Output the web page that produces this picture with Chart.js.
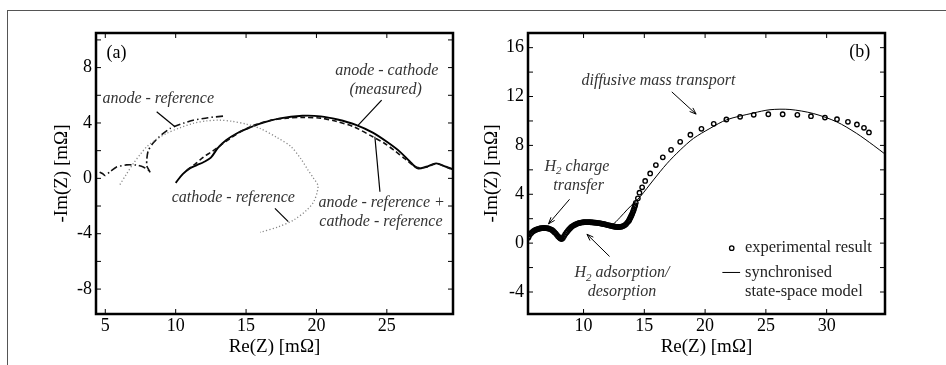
<!DOCTYPE html>
<html>
<head>
<meta charset="utf-8">
<script src="https://cdn.jsdelivr.net/npm/chart.js@4.4.1/dist/chart.umd.min.js"></script>
<style>
  html, body { margin: 0; padding: 0; background: #fff; }
  #wrap { position: relative; width: 946px; height: 365px; overflow: hidden; }
  #frame { position: absolute; left: 7px; top: 10px; right: 0; bottom: 0;
           border-top: 1px solid #555; border-left: 1px solid #555; }
  canvas { position: absolute; left: 0; top: 0; }
</style>
</head>
<body>
<div id="wrap">
  <div id="frame"></div>
  <canvas id="chartA" width="946" height="365"></canvas>
  <canvas id="chartB" width="946" height="365"></canvas>
</div>
<script>
// ---- (a) anode / cathode / reference electrode spectra ----
const measuredX = [10.0, 10.5, 11.0, 11.5, 12.0, 12.5, 13.0, 13.6, 14.3, 15.0, 16.0, 17.4, 19.0, 20.3, 21.5, 22.8, 24.0, 25.0, 25.9, 26.6, 27.2, 27.8, 28.5, 29.2, 29.7];
const measuredY = [-0.32, 0.3, 0.72, 0.95, 1.18, 1.5, 2.2, 2.77, 3.22, 3.55, 3.95, 4.33, 4.52, 4.48, 4.25, 3.86, 3.3, 2.64, 1.95, 1.25, 0.72, 0.84, 1.08, 0.84, 0.65];

const sumX = [10.8, 11.4, 12.0, 12.6, 13.2, 13.9, 14.6, 15.6, 16.7, 17.9, 19.1, 20.3, 21.4, 22.7, 24.0, 24.8, 25.5, 26.3, 27.1, 27.8, 28.5, 29.2, 29.7];
const sumY = [0.6, 1.05, 1.56, 1.95, 2.4, 2.9, 3.37, 3.85, 4.18, 4.35, 4.4, 4.35, 4.12, 3.7, 3.0, 2.55, 2.04, 1.4, 0.8, 0.8, 1.05, 0.82, 0.62];

const anodeRefX = [4.6, 4.8, 4.98, 5.3, 5.8, 6.5, 7.2, 7.7, 8.05, 8.2, 7.95, 7.95, 8.05, 8.4, 9.0, 9.6, 10.0, 10.6, 11.25, 12.3, 13.4];
const anodeRefY = [0.45, 0.35, 0.2, 0.45, 0.82, 0.97, 0.96, 0.82, 0.6, 0.4, 0.9, 1.4, 2.0, 2.55, 3.15, 3.6, 3.78, 4.0, 4.2, 4.38, 4.5];

const cathodeRefX = [6.04, 6.5, 7.0, 7.5, 7.94, 8.6, 9.36, 10.3, 11.25, 12.2, 13.1, 14.0, 15.0, 16.0, 17.2, 18.2, 18.9, 19.4, 19.8, 20.1, 20.05, 19.8, 19.3, 18.4, 17.3, 16.0];
const cathodeRefY = [-0.45, 0.3, 1.08, 1.75, 2.28, 2.8, 3.25, 3.65, 3.97, 4.15, 4.2, 4.12, 3.92, 3.6, 2.95, 2.28, 1.4, 0.6, 0.0, -0.5, -1.0, -1.7, -2.3, -3.0, -3.5, -3.9];

const xTicksA = [5, 10, 15, 20, 25];
const yTicksA = [-8, -4, 0, 4, 8];
const yMarksA = [-8, -6, -4, -2, 0, 2, 4, 6, 8, 10];

// ---- (b) experiment vs synchronised state-space model ----
// dense low-frequency part first, then the sparse diffusion arc
const expX = [5.45, 5.5, 5.6, 5.7, 5.8, 5.9, 6.0, 6.1, 6.2, 6.3, 6.4, 6.5, 6.6, 6.7, 6.8, 6.9, 7.0, 7.1, 7.2, 7.3, 7.4, 7.5, 7.6, 7.7, 7.8, 7.9,
  8.0, 8.1, 8.2, 8.3, 8.4, 8.5, 8.6, 8.7, 8.8, 8.9, 9.0, 9.1, 9.2, 9.3, 9.4, 9.5, 9.6, 9.7, 9.8, 9.9,
  10.0, 10.1, 10.2, 10.3, 10.4, 10.5, 10.6, 10.7, 10.8, 10.9, 11.0, 11.1, 11.2, 11.3, 11.4, 11.5, 11.6, 11.7, 11.8, 11.9,
  12.0, 12.1, 12.2, 12.3, 12.4, 12.5, 12.6, 12.7, 12.8, 12.9, 13.0, 13.1, 13.2, 13.3, 13.4, 13.5, 13.6, 13.7, 13.75, 13.8, 13.85, 13.9, 13.95,
  14.0, 14.05, 14.1, 14.15, 14.2, 14.25,
  14.3, 14.47, 14.6, 14.82, 15.07, 15.48, 15.95, 16.52, 17.2, 17.95, 18.79, 19.7, 20.71, 21.75, 22.88, 24.0, 25.2, 26.38, 27.59, 28.71, 29.86, 30.85, 31.75, 32.49, 33.07, 33.48];
const expY = [0.45, 0.55, 0.72, 0.84, 0.93, 1.0, 1.06, 1.1, 1.14, 1.17, 1.2, 1.22, 1.23, 1.24, 1.24, 1.23, 1.22, 1.2, 1.17, 1.13, 1.08, 1.0, 0.9, 0.8, 0.68, 0.56,
  0.46, 0.37, 0.33, 0.42, 0.58, 0.74, 0.88, 1.0, 1.12, 1.22, 1.32, 1.4, 1.46, 1.51, 1.56, 1.6, 1.63, 1.66, 1.68, 1.7,
  1.71, 1.72, 1.72, 1.72, 1.72, 1.72, 1.71, 1.7, 1.69, 1.68, 1.67, 1.66, 1.64, 1.63, 1.61, 1.59, 1.57, 1.55, 1.53, 1.5,
  1.48, 1.46, 1.43, 1.41, 1.38, 1.36, 1.34, 1.33, 1.32, 1.32, 1.33, 1.35, 1.38, 1.42, 1.48, 1.56, 1.68, 1.8, 1.88, 1.98, 2.08, 2.18, 2.29,
  2.4, 2.52, 2.66, 2.8, 2.96, 3.1,
  3.3, 3.67, 4.13, 4.57, 5.09, 5.71, 6.39, 7.02, 7.64, 8.29, 8.87, 9.36, 9.77, 10.12, 10.34, 10.5, 10.55, 10.55, 10.5, 10.39, 10.28, 10.15, 9.93, 9.71, 9.44, 9.06];

const modelX = [5.45, 5.7, 6.0, 6.5, 7.0, 7.4, 7.8, 8.15, 8.5, 9.0, 9.6, 10.3, 11.0, 11.8, 12.33, 13.0, 13.57, 14.25, 14.66, 15.75, 16.85, 17.95, 19.04, 20.4, 21.78, 23.97, 25.34, 26.98, 28.9, 30.82, 32.47, 33.83, 34.8];
const modelY = [0.4, 0.85, 1.08, 1.22, 1.22, 1.08, 0.7, 0.33, 0.75, 1.3, 1.62, 1.72, 1.66, 1.52, 1.49, 2.1, 2.72, 3.4, 3.8, 5.17, 6.5, 7.62, 8.57, 9.39, 10.1, 10.65, 10.92, 10.94, 10.61, 9.93, 8.98, 8.02, 7.29];

const xTicksB = [10, 15, 20, 25, 30];
const yTicksB = [-4, 0, 4, 8, 12, 16];
const yMarksB = [-4, -2, 0, 2, 4, 6, 8, 10, 12, 14, 16];

const serif = '"Liberation Serif", "Times New Roman", serif';

function zip(xs, ys) {
    return xs.map((x, i) => ({ x: x, y: ys[i] }));
}

function seg(ctx, x1, y1, x2, y2) {
    ctx.beginPath();
    ctx.moveTo(x1, y1);
    ctx.lineTo(x2, y2);
    ctx.stroke();
}

// text with optional subscript pieces, e.g. H_2
function richText(ctx, parts, x, y, align, size, italic) {
    const big = (italic ? 'italic ' : '') + size + 'px ' + serif;
    const small = (italic ? 'italic ' : '') + Math.round(size * 0.7) + 'px ' + serif;
    let total = 0;
    parts.forEach(p => { ctx.font = p.sub ? small : big; total += ctx.measureText(p.t).width; });
    let cx = align === 'center' ? x - total / 2 : (align === 'right' ? x - total : x);
    ctx.textAlign = 'left';
    ctx.textBaseline = 'middle';
    parts.forEach(p => {
        ctx.font = p.sub ? small : big;
        ctx.fillText(p.t, cx, p.sub ? y + size * 0.3 : y);
        cx += ctx.measureText(p.t).width;
    });
}

const framePlugin = {
    id: 'frame',
    afterDraw(chart, args, opts) {
        const ctx = chart.ctx;
        const a = chart.chartArea;
        const sx = chart.scales.x, sy = chart.scales.y;
        ctx.save();
        ctx.strokeStyle = '#000';
        ctx.fillStyle = '#000';
        ctx.lineWidth = 1;
        // inward tick marks on all four sides
        opts.xMarks.forEach(v => {
            const p = sx.getPixelForValue(v);
            seg(ctx, p, a.bottom, p, a.bottom - 5);
            seg(ctx, p, a.top, p, a.top + 5);
        });
        opts.yMarks.forEach(v => {
            const p = sy.getPixelForValue(v);
            seg(ctx, a.left, p, a.left + 5, p);
            seg(ctx, a.right, p, a.right - 5, p);
        });
        ctx.lineWidth = 2.5;
        ctx.strokeRect(a.left, a.top, a.right - a.left, a.bottom - a.top);

        // labels, leader lines, arrows, legend
        opts.notes.forEach(n => {
            if (n.type === 'text') {
                ctx.fillStyle = n.color || '#000';
                richText(ctx, n.parts, sx.getPixelForValue(n.x), sy.getPixelForValue(n.y),
                         n.align || 'center', n.size || 16, n.italic);
            } else if (n.type === 'line') {
                const x1 = sx.getPixelForValue(n.x1), y1 = sy.getPixelForValue(n.y1);
                const x2 = sx.getPixelForValue(n.x2), y2 = sy.getPixelForValue(n.y2);
                ctx.strokeStyle = '#000';
                ctx.lineWidth = n.width || 1.2;
                seg(ctx, x1, y1, x2, y2);
                if (n.arrow) {
                    const ang = Math.atan2(y2 - y1, x2 - x1);
                    const L = 7;
                    seg(ctx, x2, y2, x2 - L * Math.cos(ang - 0.35), y2 - L * Math.sin(ang - 0.35));
                    seg(ctx, x2, y2, x2 - L * Math.cos(ang + 0.35), y2 - L * Math.sin(ang + 0.35));
                }
            } else if (n.type === 'marker') {
                ctx.strokeStyle = '#000';
                ctx.lineWidth = 1.3;
                ctx.beginPath();
                ctx.arc(sx.getPixelForValue(n.x), sy.getPixelForValue(n.y), 2.2, 0, Math.PI * 2);
                ctx.stroke();
            }
        });
        ctx.restore();
    }
};

function axes(xmin, xmax, ymin, ymax, xTicks, yTicks, yWidth) {
    const tickFont = { family: serif, size: 18 };
    const titleFont = { family: serif, size: 19 };
    return {
        x: {
            type: 'linear', min: xmin, max: xmax,
            afterBuildTicks: s => { s.ticks = xTicks.map(v => ({ value: v })); },
            afterFit: s => { s.height = 44; },
            grid: { display: false, drawTicks: false, tickLength: 0 },
            border: { display: false },
            ticks: { padding: 1, color: '#000', font: tickFont, maxRotation: 0, autoSkip: false },
            title: { display: true, text: 'Re(Z) [mΩ]', color: '#000', font: titleFont, padding: 0 }
        },
        y: {
            type: 'linear', min: ymin, max: ymax,
            afterBuildTicks: s => { s.ticks = yTicks.map(v => ({ value: v })); },
            afterFit: s => { s.width = yWidth; },
            grid: { display: false, drawTicks: false, tickLength: 0 },
            border: { display: false },
            ticks: { padding: 4, color: '#000', font: tickFont, autoSkip: false },
            title: { display: true, text: '-Im(Z) [mΩ]', color: '#000', font: titleFont, padding: 0 }
        }
    };
}

function lineSet(xs, ys, width, color, dash, tension) {
    return {
        data: zip(xs, ys), showLine: true, pointRadius: 0,
        borderColor: color, borderWidth: width, borderDash: dash,
        tension: tension, fill: false
    };
}

const notesA = [
    { type: 'text', parts: [{ t: '(a)' }], x: 5.8, y: 9.0, size: 18 },
    { type: 'text', parts: [{ t: 'anode - reference' }], x: 8.76, y: 5.78, italic: true, color: '#333' },
    { type: 'line', x1: 8.65, y1: 4.81, x2: 9.95, y2: 3.73 },
    { type: 'text', parts: [{ t: 'anode - cathode' }], x: 24.99, y: 7.77, italic: true, color: '#333' },
    { type: 'text', parts: [{ t: '(measured)' }], x: 24.91, y: 6.37, italic: true, color: '#333' },
    { type: 'line', x1: 24.63, y1: 5.65, x2: 22.97, y2: 3.85 },
    { type: 'text', parts: [{ t: 'cathode - reference' }], x: 14.09, y: -1.4, italic: true, color: '#333' },
    { type: 'line', x1: 17.05, y1: -2.17, x2: 18.0, y2: -3.13 },
    { type: 'text', parts: [{ t: 'anode - reference +' }], x: 24.63, y: -1.8, italic: true, color: '#333' },
    { type: 'text', parts: [{ t: 'cathode - reference' }], x: 24.58, y: -3.13, italic: true, color: '#333' },
    { type: 'line', x1: 24.51, y1: -0.97, x2: 24.15, y2: 3.0 }
];

const notesB = [
    { type: 'text', parts: [{ t: '(b)' }], x: 32.73, y: 15.6, size: 18 },
    { type: 'text', parts: [{ t: 'diffusive mass transport' }], x: 16.16, y: 13.25, italic: true, color: '#333' },
    { type: 'line', x1: 17.26, y1: 12.38, x2: 19.26, y2: 10.56, arrow: true, width: 1 },
    { type: 'text', parts: [{ t: 'H' }, { t: '2', sub: true }, { t: ' charge' }], x: 9.46, y: 6.25, italic: true, color: '#333' },
    { type: 'text', parts: [{ t: 'transfer' }], x: 9.59, y: 4.7, italic: true, color: '#333' },
    { type: 'line', x1: 8.85, y1: 3.59, x2: 7.12, y2: 1.58, arrow: true, width: 1 },
    { type: 'text', parts: [{ t: 'H' }, { t: '2', sub: true }, { t: ' adsorption/' }], x: 13.16, y: -2.45, italic: true, color: '#333' },
    { type: 'text', parts: [{ t: 'desorption' }], x: 13.16, y: -4.0, italic: true, color: '#333' },
    { type: 'line', x1: 12.14, y1: -1.09, x2: 10.28, y2: 0.73, arrow: true, width: 1 },
    { type: 'marker', x: 22.19, y: -0.41 },
    { type: 'text', parts: [{ t: 'experimental result' }], x: 23.28, y: -0.41, align: 'left', size: 16.5, color: '#222' },
    { type: 'line', x1: 21.42, y1: -2.4, x2: 22.88, y2: -2.4, width: 1 },
    { type: 'text', parts: [{ t: 'synchronised' }], x: 23.28, y: -2.4, align: 'left', size: 16.5, color: '#222' },
    { type: 'text', parts: [{ t: 'state-space model' }], x: 23.28, y: -3.98, align: 'left', size: 16.5, color: '#222' }
];

function baseOptions(scales, pad, plug) {
    return {
        responsive: false,
        animation: false,
        devicePixelRatio: 1,
        layout: { padding: pad },
        scales: scales,
        plugins: { legend: { display: false }, tooltip: { enabled: false }, frame: plug }
    };
}

new Chart(document.getElementById('chartA'), {
    type: 'scatter',
    data: {
        datasets: [
            lineSet(cathodeRefX, cathodeRefY, 1.3, '#888', [1.2, 2.2], 0.3),
            lineSet(anodeRefX, anodeRefY, 1.6, '#111', [7, 3, 1.5, 3], 0.2),
            lineSet(sumX, sumY, 1.6, '#111', [5, 3], 0.3),
            lineSet(measuredX, measuredY, 1.9, '#000', [], 0.3)
        ]
    },
    options: baseOptions(
        axes(4.34, 29.7, -9.8, 10.5, xTicksA, yTicksA, 45),
        { left: 51, right: 493, top: 33, bottom: 7 },
        { xMarks: xTicksA, yMarks: yMarksA, notes: notesA }
    ),
    plugins: [framePlugin]
});

new Chart(document.getElementById('chartB'), {
    type: 'scatter',
    data: {
        datasets: [
            lineSet(modelX, modelY, 1, '#000', [], 0.3),
            {
                data: zip(expX, expY), showLine: false,
                pointRadius: 2.2, pointBorderWidth: 1.4,
                pointBorderColor: '#000', pointBackgroundColor: 'rgba(255,255,255,0)'
            }
        ]
    },
    options: baseOptions(
        axes(5.43, 34.8, -5.8, 17.2, xTicksB, yTicksB, 47),
        { left: 481, right: 61, top: 33, bottom: 7 },
        { xMarks: xTicksB, yMarks: yMarksB, notes: notesB }
    ),
    plugins: [framePlugin]
});
</script>
</body>
</html>
